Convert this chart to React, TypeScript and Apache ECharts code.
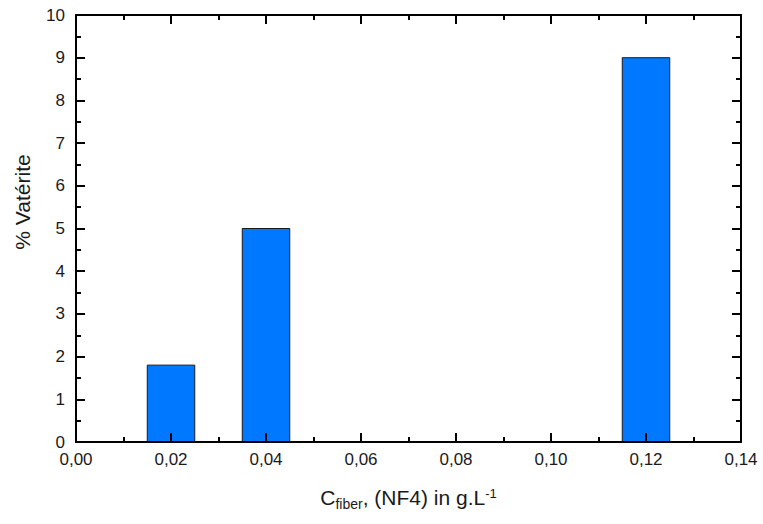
import React, { useEffect, useRef } from "react";
import * as echarts from "echarts";

const concentrations = [0.02, 0.04, 0.12];
const vateritePct = [1.8, 5, 9];
const xRange = [0, 0.14];
const yRange = [0, 10];
const xStep = 0.02;
const yStep = 1;
const barHalfWidth = 0.005;

const FONT = "'Liberation Sans', Arial, sans-serif";

export default function App() {
  const ref = useRef<HTMLDivElement>(null);
  useEffect(() => {
    if (!ref.current) return;
    const chart = echarts.init(ref.current, undefined, { renderer: "svg" });
    const axisLine = { show: true, onZero: false, lineStyle: { color: "#000", width: 2 } };
    const tick = { show: true, inside: true, length: 9, lineStyle: { color: "#000", width: 2 } };
    const minor = { show: true, splitNumber: 2, length: 5, lineStyle: { color: "#000", width: 2 } };
    const labelStyle = { color: "#1a1a1a", fontSize: 17, fontFamily: FONT };
    const fmtX = (v: number) => v.toFixed(2).replace(".", ",");
    const data = concentrations.map((c, i) => [c, vateritePct[i]]);
    chart.setOption({
      animation: false,
      backgroundColor: "#fff",
      grid: { left: 76, right: 22, top: 15, bottom: 82, containLabel: false },
      xAxis: [
        {
          type: "value",
          min: xRange[0],
          max: xRange[1],
          interval: xStep,
          position: "bottom",
          z: 5,
          axisLine,
          axisTick: tick,
          minorTick: minor,
          splitLine: { show: false },
          axisLabel: { ...labelStyle, margin: 9, formatter: fmtX },
          name: "{c|C}{sub|fiber}{c|, (NF4) in g.L}{sup|-1}",
          nameLocation: "middle",
          nameGap: 45,
          nameTextStyle: {
            fontFamily: FONT,
            color: "#1a1a1a",
            rich: {
              c: { fontSize: 21, lineHeight: 24, fontFamily: FONT, color: "#1a1a1a", verticalAlign: "top" },
              sub: { fontSize: 14, lineHeight: 14, fontFamily: FONT, color: "#1a1a1a", padding: [17, 0, 0, 0], verticalAlign: "bottom" },
              sup: { fontSize: 13, lineHeight: 13, fontFamily: FONT, color: "#1a1a1a", verticalAlign: "top" },
            },
          },
        },
        {
          type: "value",
          min: xRange[0],
          max: xRange[1],
          interval: xStep,
          position: "top",
          z: 5,
          axisLine,
          axisTick: tick,
          minorTick: minor,
          splitLine: { show: false },
          axisLabel: { show: false },
        },
      ],
      yAxis: [
        {
          type: "value",
          min: yRange[0],
          max: yRange[1],
          interval: yStep,
          position: "left",
          z: 5,
          axisLine,
          axisTick: tick,
          minorTick: minor,
          splitLine: { show: false },
          axisLabel: { ...labelStyle, margin: 11 },
        },
        {
          type: "value",
          min: yRange[0],
          max: yRange[1],
          interval: yStep,
          position: "right",
          z: 5,
          axisLine,
          axisTick: tick,
          minorTick: minor,
          splitLine: { show: false },
          axisLabel: { show: false },
        },
      ],
      graphic: [
        {
          type: "text",
          x: 22,
          y: 202,
          rotation: Math.PI / 2,
          style: {
            text: "% Vatérite",
            fontSize: 21,
            fontFamily: FONT,
            fill: "#1a1a1a",
            align: "center",
            verticalAlign: "middle",
          },
        },
      ],
      series: [
        {
          type: "custom",
          xAxisIndex: 0,
          yAxisIndex: 0,
          z: 2,
          data,
          renderItem: (params: any, api: any) => {
            const x = api.value(0);
            const v = api.value(1);
            const p0 = api.coord([x - barHalfWidth, v]);
            const p1 = api.coord([x + barHalfWidth, 0]);
            return {
              type: "rect",
              shape: { x: p0[0], y: p0[1], width: p1[0] - p0[0], height: p1[1] - p0[1] },
              style: { fill: "#0078FF", stroke: "#1a1a1a", lineWidth: 1 },
            };
          },
        },
      ],
    });
    return () => chart.dispose();
  }, []);
  return (
    <div
      ref={ref}
      style={{ position: "fixed", left: 0, top: 0, width: 763, height: 524, background: "#fff" }}
    />
  );
}
